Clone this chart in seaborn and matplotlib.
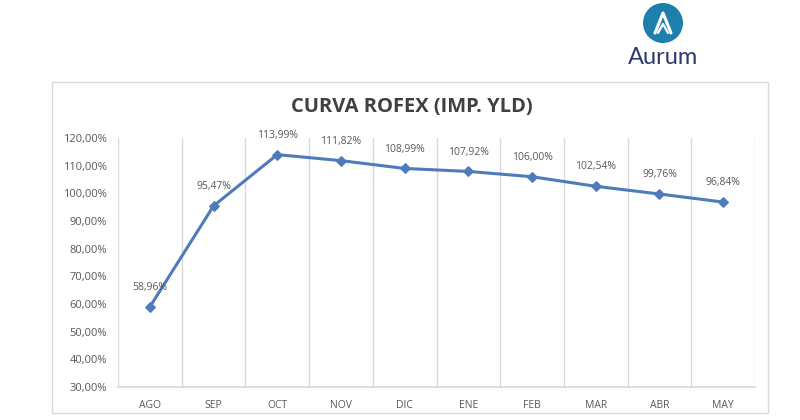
#!/usr/bin/env python3
"""Curva ROFEX (implied yield) line chart"""

import matplotlib
matplotlib.use("Agg")
import matplotlib.pyplot as plt
from matplotlib.patches import Rectangle, Circle
from matplotlib.ticker import FuncFormatter
import pandas as pd
import seaborn as sns

# data
meses = ["AGO", "SEP", "OCT", "NOV", "DIC", "ENE", "FEB", "MAR", "ABR", "MAY"]
tasas = [58.96, 95.47, 113.99, 111.82, 108.99, 107.92, 106.00, 102.54, 99.76, 96.84]
y_ticks = [30, 40, 50, 60, 70, 80, 90, 100, 110, 120]

LINE = "#4f7bba"
GRID = "#d9d9d9"
TXT = "#595959"

sns.set_theme(style="white")
plt.rcParams["font.family"] = ["Open Sans", "DejaVu Sans"]

df = pd.DataFrame({"mes": meses, "tasa": tasas})

fig = plt.figure(figsize=(8, 4.2), dpi=100)
fig.patch.set_facecolor("white")

# overlay in pixel coordinates for frame and logo
ov = fig.add_axes([0, 0, 1, 1])
ov.set_xlim(0, 800)
ov.set_ylim(420, 0)
ov.axis("off")
ov.patch.set_visible(False)

ov.add_patch(Rectangle((52, 82), 716, 331, fill=False, edgecolor=GRID, linewidth=1.0))

# logo
ov.add_patch(Circle((663, 23), 20, facecolor="#1e7fad", edgecolor="none"))
ov.plot([655, 663, 671], [33, 13, 33], color="white", linewidth=2.2,
        solid_capstyle="round", solid_joinstyle="round")
ov.plot([658, 663, 668], [33, 24, 33], color="white", linewidth=1.6,
        solid_capstyle="round", solid_joinstyle="round")
ov.text(663, 58, "Aurum", ha="center", va="center", fontsize=17,
        color="#2e3a6e", family=["Lato", "DejaVu Sans"])

ax = fig.add_axes([118 / 800, 1 - 387 / 420, 637 / 800, 249 / 420])
sns.lineplot(data=df, x="mes", y="tasa", ax=ax, sort=False, color=LINE,
             linewidth=2.2, marker="D", markersize=5,
             markeredgecolor=LINE, markerfacecolor=LINE)

ax.set_xlim(-0.5, len(meses) - 0.5)
ax.set_ylim(y_ticks[0], y_ticks[-1])
ax.set_yticks(y_ticks)
ax.yaxis.set_major_formatter(FuncFormatter(lambda v, p: f"{v:.2f}%".replace(".", ",")))

# vertical separators between categories
for i in range(len(meses) + 1):
    ax.axvline(i - 0.5, color=GRID, linewidth=1.0, zorder=0)

for s in ["top", "right", "left"]:
    ax.spines[s].set_visible(False)
ax.spines["bottom"].set_color(GRID)
ax.spines["bottom"].set_linewidth(1.2)

ax.tick_params(axis="y", length=0, labelsize=8, colors=TXT, pad=8)
ax.tick_params(axis="x", length=0, labelsize=7.5, colors=TXT, pad=9)
ax.set_xlabel("")
ax.set_ylabel("")

# data labels
for i, v in enumerate(tasas):
    ax.annotate(f"{v:.2f}%".replace(".", ","), (i, v), xytext=(0, 10),
                textcoords="offset points", ha="center", va="bottom",
                fontsize=7.5, color=TXT)

fig.text(412 / 800, 1 - 107 / 420, "CURVA ROFEX (IMP. YLD)", ha="center",
         va="center", fontsize=14.5, fontweight="bold", color="#404040")

fig.savefig("out.png", dpi=100, facecolor="white")
